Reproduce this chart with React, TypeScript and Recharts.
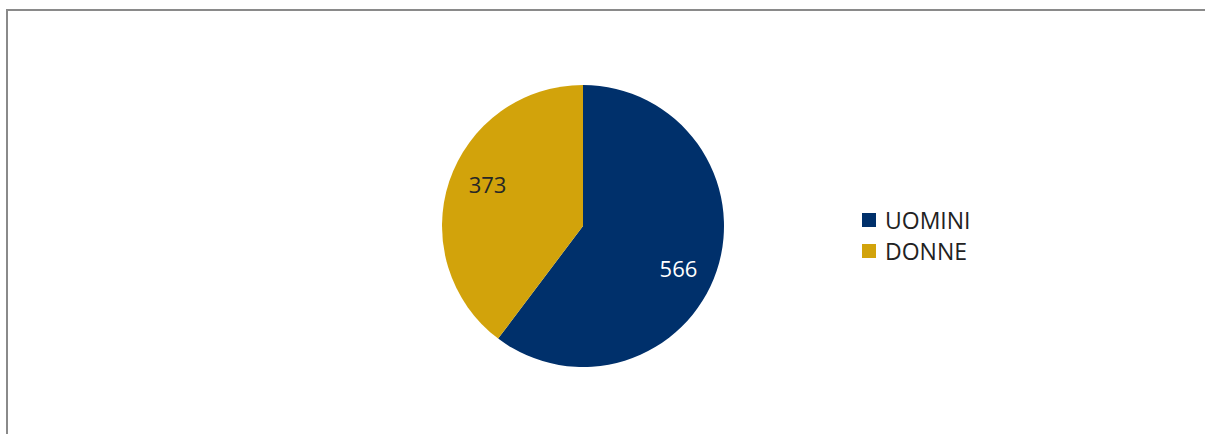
import { PieChart, Pie, Cell, Legend } from "recharts";

const CATEGORIES = ["UOMINI", "DONNE"];
const VALUES = [566, 373];
const COLORS = ["#00306B", "#D2A30B"];
const LABEL_COLORS = ["#FFFFFF", "#262626"];

const FONT = "'Open Sans', sans-serif";

const data = CATEGORIES.map((name, i) => ({ name, value: VALUES[i] }));

const RADIAN = Math.PI / 180;

// Excel places the data labels slightly clockwise of the slice middle
function renderLabel(props: any) {
  const { cx, cy, midAngle, outerRadius, index, value } = props;
  const r = outerRadius * 0.74;
  const a = (midAngle - 5.3) * RADIAN;
  const x = cx + r * Math.cos(-a);
  const y = cy + r * Math.sin(-a);
  return (
    <text
      x={x}
      y={y}
      fill={LABEL_COLORS[index]}
      textAnchor="middle"
      dominantBaseline="central"
      style={{ fontFamily: FONT, fontSize: 22 }}
    >
      {value}
    </text>
  );
}

function LegendBox() {
  return (
    <div style={{ fontFamily: FONT, fontSize: 23, color: "#222" }}>
      {CATEGORIES.map((c, i) => (
        <div key={c} style={{ display: "flex", alignItems: "center", height: 31 }}>
          <span style={{ width: 14, height: 14, background: COLORS[i], marginRight: 9, display: "inline-block" }} />
          <span>{c}</span>
        </div>
      ))}
    </div>
  );
}

export default function App() {
  return (
    <div style={{ position: "fixed", left: 0, top: 0, width: 1205, height: 434, background: "#fff", overflow: "hidden" }}>
      {/* frame: only top and left edges are visible in the crop */}
      <div
        style={{
          position: "absolute",
          left: 6,
          top: 9,
          width: 1220,
          height: 450,
          borderTop: "2px solid #8a8a8a",
          borderLeft: "2px solid #8a8a8a",
          boxSizing: "border-box",
        }}
      />
      <div style={{ position: "absolute", left: 0, top: 0 }}>
        <PieChart width={1205} height={434} margin={{ top: 0, right: 0, bottom: 0, left: 0 }}>
          <Pie
            data={data}
            dataKey="value"
            nameKey="name"
            cx={583}
            cy={226}
            outerRadius={141}
            startAngle={90}
            endAngle={-270}
            stroke="none"
            label={renderLabel}
            labelLine={false}
            isAnimationActive={false}
          >
            {data.map((d, i) => (
              <Cell key={d.name} fill={COLORS[i]} />
            ))}
          </Pie>
          <Legend
            content={<LegendBox />}
            layout="vertical"
            wrapperStyle={{ left: 862, top: 204, width: 200 }}
          />
        </PieChart>
      </div>
    </div>
  );
}
